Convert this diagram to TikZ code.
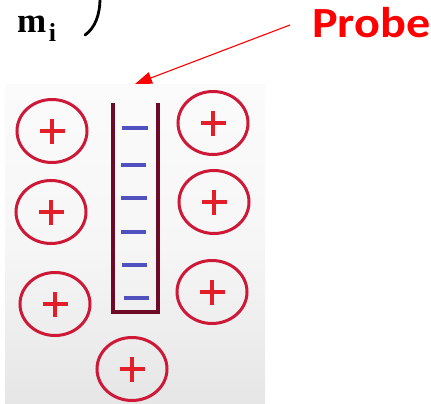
\documentclass[tikz,border=0pt]{standalone}
\usepackage{fontspec}
\setmainfont{Liberation Serif}
\newfontfamily\probefont{Carlito}
\usetikzlibrary{shapes.geometric,arrows.meta}
\definecolor{ringred}{RGB}{205,25,55}
\definecolor{plusred}{RGB}{228,30,40}
\definecolor{wallcol}{RGB}{110,10,40}
\definecolor{dashblue}{RGB}{80,80,190}
\definecolor{paneltop}{RGB}{251,251,251}
\definecolor{panelmid}{RGB}{246,246,246}
\definecolor{panelbot}{RGB}{230,230,230}
\tikzset{
  ion/.style={ellipse, draw=ringred, line width=3pt, minimum width=70pt, minimum height=63pt, inner sep=0pt,
    path picture={\draw[plusred, line width=3.6pt]
      ([xshift=-12.5pt]path picture bounding box.center) -- ([xshift=12.5pt]path picture bounding box.center)
      ([yshift=-12.5pt]path picture bounding box.center) -- ([yshift=12.5pt]path picture bounding box.center);}},
  electron/.style={dashblue, line width=4pt},
  wall/.style={wallcol, line width=4.5pt},
}
\begin{document}
\begin{tikzpicture}[x=1pt,y=-1pt]
\useasboundingbox (0,0) rectangle (431,404);
% panel
\shade[top color=paneltop, bottom color=panelbot, middle color=panelmid] (5,84) rectangle (265,404);
% top text
\node[font=\bfseries\fontsize{35}{35}\selectfont, anchor=base west, inner sep=0pt] (mi) at (17,33) {m};
\node[font=\bfseries\fontsize{26}{26}\selectfont, anchor=base west, inner sep=0pt] (sub) at (mi.base east) [xshift=2pt, yshift=-9pt] {i};
\draw[line width=2.8pt, line cap=round] (100,-2) .. controls (100,15) and (95,28) .. (85,35);
\node[font=\probefont\bfseries\fontsize{43}{43}\selectfont, text=red, anchor=base west, inner sep=0pt] (probe) at (312,38) {\scalebox{1.12}[1]{Probe}};
\coordinate (tip) at (135,84);
\draw[red, line width=1.1pt, -{Triangle[length=17pt,width=12pt]}] (290,25) -- (tip);
% probe walls
\coordinate (pl) at (113,103);
\coordinate (pr) at (158,103);
\draw[wall] (pl) -- (113,312) -- (158,312) -- (pr);
% electrons
\foreach \y/\a/\b in {127.5/122/148, 165/121/146, 198/121/147, 232/121/146, 265/122/147, 298/124/149}
  \draw[electron] (\a,\y) -- (\b,\y);
% ions
\node[ion] (l1) at (52,131) {};
\node[ion] (l2) at (51,212) {};
\node[ion] (l3) at (55,304) {};
\node[ion] (r1) at (213,123) {};
\node[ion] (r2) at (214,202) {};
\node[ion] (r3) at (212,292) {};
\node[ion] (b1) at (132,369) {};
\end{tikzpicture}
\end{document}
